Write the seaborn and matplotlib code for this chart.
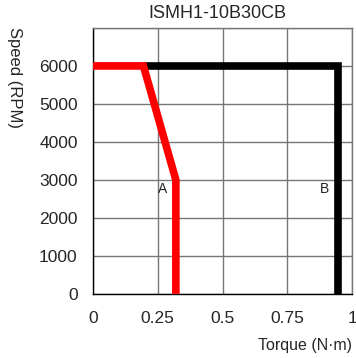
import numpy as np
import pandas as pd
import matplotlib
matplotlib.use("Agg")
import matplotlib.pyplot as plt
import seaborn as sns

# curve data
torque_a = [0, 0.195, 0.32, 0.32]
speed_a = [6000, 6000, 3000, 0]
torque_b = [0.195, 0.945, 0.945]
speed_b = [6000, 6000, 0]
x_ticks = [0, 0.25, 0.5, 0.75, 1]
x_labels = ["0", "0.25", "0.5", "0.75", "1"]
y_ticks = [0, 1000, 2000, 3000, 4000, 5000, 6000]

sns.set_style("white")
plt.rcParams['font.family'] = ['Liberation Sans', 'DejaVu Sans']

fig = plt.figure(figsize=(3.56, 3.58), dpi=100)
ax = fig.add_axes([0.261, 0.179, 0.728, 0.743])

df_a = pd.DataFrame({"torque": torque_a, "speed": speed_a})
df_b = pd.DataFrame({"torque": torque_b, "speed": speed_b})
sns.lineplot(data=df_b, x="torque", y="speed", sort=False, estimator=None,
             color="black", linewidth=5.5, ax=ax, zorder=3)
sns.lineplot(data=df_a, x="torque", y="speed", sort=False, estimator=None,
             color="#ff0000", linewidth=5.5, ax=ax, zorder=4)
for ln in ax.get_lines():
    ln.set_solid_joinstyle("miter")
    ln.set_solid_capstyle("butt")

ax.set_xlim(0, 1)
ax.set_ylim(0, 7000)
ax.set_xticks(x_ticks)
ax.set_xticklabels(x_labels)
ax.set_yticks(y_ticks + [7000])
ax.set_yticklabels([str(v) for v in y_ticks] + [""])
ax.grid(True, color="#777777", linewidth=1)
for s in ["top", "right"]:
    ax.spines[s].set_color("#777777")
    ax.spines[s].set_linewidth(1)
for s in ["left", "bottom"]:
    ax.spines[s].set_color("black")
    ax.spines[s].set_linewidth(1)
ax.tick_params(axis="both", length=0, labelsize=12.5)
ax.tick_params(axis="y", pad=11)
ax.tick_params(axis="x", pad=12)
ax.set_xlabel("")
ax.set_ylabel("")

ax.text(0.27, 2750, "A", fontsize=10, ha="center", va="center")
ax.text(0.895, 2750, "B", fontsize=10, ha="center", va="center")

fig.text(0.61, 0.962, "ISMH1-10B30CB", fontsize=13, ha="center", va="center")
fig.text(0.042, 0.925, "Speed (RPM)", fontsize=12, rotation=-90, ha="center", va="top")
fig.text(0.989, 0.035, "Torque (N\u00b7m)", fontsize=11.5, ha="right", va="center")

fig.savefig("out.png", dpi=100)
